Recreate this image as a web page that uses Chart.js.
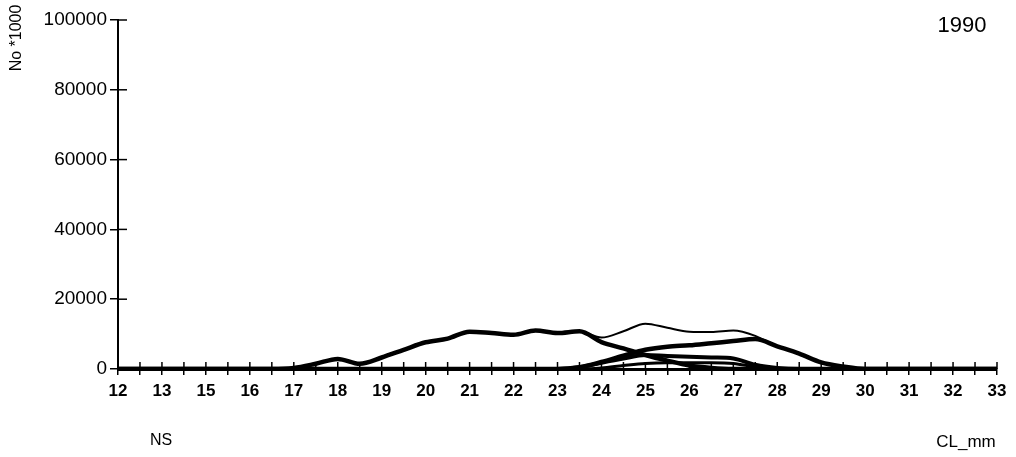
<!DOCTYPE html>
<html>
<head>
<meta charset="utf-8">
<script src="https://cdn.jsdelivr.net/npm/chart.js@4/dist/chart.umd.min.js"></script>
<style>
  html, body { margin: 0; padding: 0; background: #fff; }
  #wrap { width: 1016px; height: 457px; position: relative; }
</style>
</head>
<body>
<div id="wrap"><canvas id="c" width="1016" height="457"></canvas></div>
<script>
// ---- data ----
const tickLabels = ['12','13','15','16','17','18','19','20','21','22','23','24','25','26','27','28','29','30','31','32','33'];
const yTicks = [0, 20000, 40000, 60000, 80000, 100000];
const yearLabel = '1990';
const areaLabel = 'NS';
const yTitle = 'No *1000';
const xTitle = 'CL_mm';

// values at every half-step between the labelled ticks (41 points)
const totalSeries = [0,0,0,0,0,0,0,0,300,1500,2900,1500,3300,5500,7650,8700,10700,10300,9800,11000,10300,10800,9000,10800,13000,11800,10700,10600,11000,9500,6500,4400,1900,700,0,0,0,0,0,0,0];
const seriesA =     [0,0,0,0,0,0,0,0,300,1500,2900,1500,3300,5500,7650,8700,10700,10300,9800,11000,10300,10800,7700,5900,4000,2400,1000,300,0,0,0,0,0,0,0,0,0,0,0,0,0];
const seriesB =     [0,0,0,0,0,0,0,0,0,0,0,0,0,0,0,0,0,0,0,0,0,500,2000,3800,5500,6400,6800,7400,8000,8600,6500,4400,1900,700,0,0,0,0,0,0,0];
const seriesC =     [0,0,0,0,0,0,0,0,0,0,0,0,0,0,0,0,0,0,0,0,0,500,1800,3000,4000,3700,3500,3300,3000,1200,300,0,0,0,0,0,0,0,0,0,0];
const seriesD =     [0,0,0,0,0,0,0,0,0,0,0,0,0,0,0,0,0,0,0,0,0,0,300,1000,1600,1800,1800,1800,1600,600,0,0,0,0,0,0,0,0,0,0,0];

// categories: labelled ticks with an unlabelled half-step between them
const categories = [];
tickLabels.forEach((t, i) => { categories.push(t); if (i < tickLabels.length - 1) categories.push(''); });

const FONT = "'Liberation Sans', Arial, Helvetica, sans-serif";

const crossTicks = {
  id: 'crossTicks',
  afterDraw(chart) {
    const ctx = chart.ctx, xs = chart.scales.x, ys = chart.scales.y;
    ctx.save();
    ctx.strokeStyle = '#000';
    ctx.lineWidth = 1.5;
    ys.ticks.forEach(t => {
      const py = ys.getPixelForValue(t.value);
      ctx.beginPath(); ctx.moveTo(xs.left, py); ctx.lineTo(xs.left + 9, py); ctx.stroke();
    });
    categories.forEach((c, i) => {
      const px = xs.getPixelForValue(i);
      ctx.beginPath(); ctx.moveTo(px, ys.bottom); ctx.lineTo(px, ys.bottom - 7); ctx.stroke();
    });
    // annotations
    ctx.fillStyle = '#000';
    ctx.font = '22px ' + FONT;
    ctx.textAlign = 'center'; ctx.textBaseline = 'middle';
    ctx.fillText(yearLabel, 962, 26);
    ctx.font = '16px ' + FONT;
    ctx.fillText(areaLabel, 161, 441);
    ctx.font = '17px ' + FONT;
    ctx.fillText(xTitle, 966, 442);
    ctx.save();
    ctx.translate(17, 38);
    ctx.rotate(-Math.PI / 2);
    ctx.font = '16px ' + FONT;
    ctx.fillText(yTitle, 0, 0);
    ctx.restore();
    ctx.restore();
  }
};

const mk = (data, w) => ({
  data, borderColor: '#000', backgroundColor: '#000', borderWidth: w,
  pointRadius: 0, fill: false, cubicInterpolationMode: 'monotone'
});

new Chart(document.getElementById('c'), {
  type: 'line',
  data: {
    labels: categories,
    datasets: [mk(totalSeries, 2), mk(seriesA, 4.5), mk(seriesB, 4.5), mk(seriesC, 4), mk(seriesD, 3)]
  },
  options: {
    responsive: false,
    animation: false,
    layout: { padding: { top: 20, right: 19, left: 0, bottom: 0 } },
    plugins: { legend: { display: false }, tooltip: { enabled: false } },
    scales: {
      x: {
        offset: false,
        afterFit(s) { s.height = 88; },
        border: { color: '#000', width: 3 },
        grid: { drawOnChartArea: false, drawTicks: true, tickLength: 6, color: '#000', lineWidth: 1.5 },
        ticks: { autoSkip: false, maxRotation: 0, padding: 6, color: '#000', font: { family: FONT, size: 17, weight: 'bold' } }
      },
      y: {
        min: 0, max: 100000,
        afterFit(s) { s.width = 118; },
        afterBuildTicks(s) { s.ticks = yTicks.map(v => ({ value: v })); },
        border: { color: '#000', width: 2 },
        grid: { drawOnChartArea: false, drawTicks: true, tickLength: 8, color: '#000', lineWidth: 1.5 },
        ticks: { padding: 3, color: '#000', font: { family: FONT, size: 19 }, callback: v => String(v) }
      }
    }
  },
  plugins: [crossTicks]
});
</script>
</body>
</html>
